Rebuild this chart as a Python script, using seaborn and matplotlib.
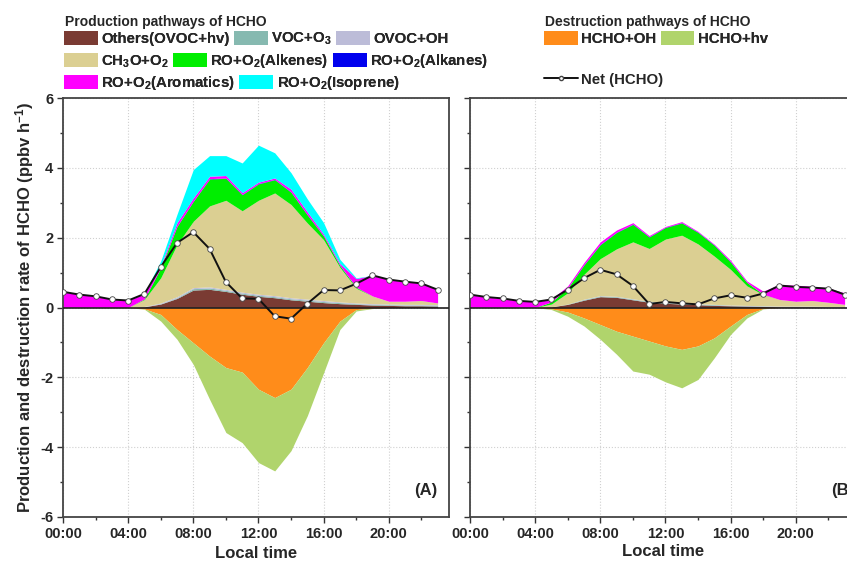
import matplotlib
matplotlib.use("Agg")
import matplotlib.pyplot as plt
from matplotlib.patches import Patch
from matplotlib.lines import Line2D
from matplotlib.ticker import MultipleLocator
import seaborn as sns
import numpy as np

hours = list(range(24))
tick_hours = [0, 4, 8, 12, 16, 20]
tick_labels = ['00:00', '04:00', '08:00', '12:00', '16:00', '20:00']

prod_names = ['Others(OVOC+hv)', 'VOC+O$_3$', 'OVOC+OH', 'CH$_3$O+O$_2$',
              'RO+O$_2$(Alkenes)', 'RO+O$_2$(Alkanes)', 'RO+O$_2$(Aromatics)',
              'RO+O$_2$(Isoprene)']
prod_colors = ['#7a3b33', '#86b9b0', '#bcbcd8', '#dbcf92',
               '#00ee00', '#0000ee', '#ff00ff', '#00ffff']
dest_names = ['HCHO+OH', 'HCHO+hv']
dest_colors = ['#ff8c1a', '#b0d46c']

# panel A: production layers (ppbv/h)
othersA = [0, 0, 0, 0, 0, 0.02, 0.10, 0.26, 0.50, 0.52, 0.46, 0.38, 0.32, 0.28, 0.22, 0.18, 0.14, 0.11, 0.09, 0.07, 0.06, 0.05, 0.05, 0.04]
voco3A = [0, 0, 0, 0, 0, 0, 0.01, 0.02, 0.04, 0.04, 0.03, 0.03, 0.03, 0.03, 0.03, 0.03, 0.03, 0.03, 0.02, 0.02, 0.02, 0.02, 0.02, 0.02]
ovocohA = [0, 0, 0, 0, 0, 0.01, 0.02, 0.03, 0.03, 0.03, 0.03, 0.03, 0.03, 0.03, 0.03, 0.03, 0.03, 0.02, 0.02, 0.02, 0.02, 0.02, 0.02, 0.02]
ch3oA = [0, 0, 0, 0, 0, 0.20, 0.72, 1.49, 1.90, 2.32, 2.55, 2.33, 2.69, 2.94, 2.67, 2.18, 1.74, 0.99, 0.42, 0.22, 0.08, 0.09, 0.11, 0.05]
alkenesA = [0, 0, 0, 0, 0, 0.02, 0.28, 0.52, 0.57, 0.77, 0.63, 0.46, 0.47, 0.38, 0.35, 0.23, 0.10, 0.05, 0.03, 0, 0, 0, 0, 0]
alkanesA = [0, 0, 0, 0, 0, 0, 0.01, 0.01, 0.01, 0.01, 0.01, 0.01, 0.01, 0.01, 0.01, 0.01, 0.01, 0.01, 0, 0, 0, 0, 0, 0]
aromaticsA = [0.45, 0.37, 0.32, 0.23, 0.20, 0.15, 0.05, 0.10, 0.09, 0.07, 0.07, 0.05, 0.04, 0.04, 0.08, 0.08, 0.05, 0.05, 0.25, 0.59, 0.62, 0.56, 0.49, 0.40]
isopreneA = [0, 0, 0, 0, 0, 0.02, 0.14, 0.24, 0.81, 0.59, 0.57, 0.85, 1.06, 0.72, 0.47, 0.37, 0.33, 0.12, 0.02, 0, 0, 0, 0, 0]
# panel A: destruction
ohA = [0, 0, 0, 0, 0, 0.04, 0.20, 0.63, 1.01, 1.39, 1.72, 1.85, 2.34, 2.58, 2.34, 1.72, 1.01, 0.39, 0.06, 0.02, 0, 0, 0, 0]
hvA = [0, 0, 0, 0, 0, 0.01, 0.19, 0.28, 0.62, 1.24, 1.86, 2.02, 2.10, 2.10, 1.76, 1.38, 0.86, 0.24, 0.04, 0.01, 0, 0, 0, 0]
netA = [0.45, 0.37, 0.32, 0.23, 0.20, 0.39, 1.16, 1.85, 2.16, 1.68, 0.73, 0.26, 0.25, -0.25, -0.32, 0.11, 0.50, 0.49, 0.68, 0.92, 0.80, 0.74, 0.69, 0.51]

# panel B: production layers
othersB = [0, 0, 0, 0, 0, 0.02, 0.09, 0.21, 0.31, 0.29, 0.22, 0.15, 0.12, 0.10, 0.08, 0.06, 0.05, 0.04, 0.03, 0.02, 0.02, 0.02, 0.01, 0.01]
voco3B = [0, 0, 0, 0, 0, 0, 0.01, 0.02, 0.02, 0.02, 0.02, 0.02, 0.02, 0.02, 0.02, 0.02, 0.01, 0.01, 0.01, 0.01, 0.01, 0.01, 0.01, 0.01]
ovocohB = [0, 0, 0, 0, 0, 0, 0, 0.01, 0.01, 0.01, 0.01, 0.01, 0.01, 0.01, 0.01, 0.01, 0.01, 0.01, 0.01, 0.01, 0.01, 0.01, 0.01, 0.01]
ch3oB = [0, 0, 0, 0, 0, 0.08, 0.32, 0.71, 1.06, 1.36, 1.63, 1.51, 1.81, 1.94, 1.71, 1.38, 1.02, 0.56, 0.32, 0.19, 0.14, 0.16, 0.12, 0.06]
alkenesB = [0, 0, 0, 0, 0, 0.06, 0.14, 0.27, 0.40, 0.47, 0.50, 0.33, 0.33, 0.35, 0.33, 0.31, 0.21, 0.10, 0.01, 0, 0, 0, 0, 0]
alkanesB = [0, 0, 0, 0, 0, 0, 0, 0.01, 0.01, 0.01, 0.01, 0.01, 0.01, 0.01, 0.01, 0.01, 0.01, 0, 0, 0, 0, 0, 0, 0]
aromaticsB = [0.37, 0.30, 0.26, 0.19, 0.16, 0.08, 0.06, 0.06, 0.07, 0.06, 0.04, 0.03, 0.02, 0.03, 0.02, 0.02, 0.04, 0.04, 0.09, 0.43, 0.46, 0.41, 0.41, 0.33]
isopreneB = [0] * 24
# panel B: destruction
ohB = [0, 0, 0, 0, 0, 0.04, 0.13, 0.30, 0.49, 0.68, 0.82, 0.96, 1.10, 1.20, 1.10, 0.87, 0.53, 0.20, 0.03, 0, 0, 0, 0, 0]
hvB = [0, 0, 0, 0, 0, 0.02, 0.12, 0.23, 0.42, 0.66, 1.00, 0.95, 1.03, 1.10, 0.96, 0.57, 0.24, 0.10, 0.01, 0, 0, 0, 0, 0]
netB = [0.37, 0.30, 0.26, 0.19, 0.16, 0.23, 0.51, 0.84, 1.08, 0.95, 0.62, 0.10, 0.16, 0.12, 0.09, 0.26, 0.35, 0.28, 0.40, 0.63, 0.59, 0.57, 0.54, 0.37]

sns.set_theme(style="ticks")
plt.rcParams['font.family'] = ['Liberation Sans', 'DejaVu Sans']
plt.rcParams['font.weight'] = 'bold'
plt.rcParams['mathtext.fontset'] = 'custom'
plt.rcParams['mathtext.rm'] = 'Liberation Sans:bold'
plt.rcParams['mathtext.bf'] = 'Liberation Sans:bold'
plt.rcParams['mathtext.default'] = 'bf'

fig = plt.figure(figsize=(8.47, 5.67), dpi=100)
axA = fig.add_axes([63 / 847, 50 / 567, 386 / 847, 419 / 567])
axB = fig.add_axes([470 / 847, 50 / 567, 386 / 847, 419 / 567])

panels = [
    (axA, [othersA, voco3A, ovocohA, ch3oA, alkenesA, alkanesA, aromaticsA, isopreneA], ohA, hvA, netA, '(A)', 0.97),
    (axB, [othersB, voco3B, ovocohB, ch3oB, alkenesB, alkanesB, aromaticsB, isopreneB], ohB, hvB, netB, '(B)', 0.997),
]

for ax, prod, oh, hv, net, tag, tag_x in panels:
    ax.stackplot(hours, *prod, colors=prod_colors, linewidth=0)
    ax.stackplot(hours, -np.array(oh), -np.array(hv), colors=dest_colors, linewidth=0)
    ax.axhline(0, color='#222222', lw=1.2, zorder=3)
    sns.lineplot(x=hours, y=net, ax=ax, color='#111111', lw=1.4, marker='o',
                 markersize=4, markerfacecolor='white', markeredgecolor='#444444',
                 markeredgewidth=0.6, zorder=4)
    ax.set_xlim(0, 23.7)
    ax.set_ylim(-6, 6)
    ax.set_xticks(tick_hours)
    ax.set_xticklabels(tick_labels, fontsize=10.5, fontweight='bold')
    ax.xaxis.set_minor_locator(MultipleLocator(2))
    ax.yaxis.set_major_locator(MultipleLocator(2))
    ax.yaxis.set_minor_locator(MultipleLocator(1))
    ax.tick_params(axis='both', which='major', direction='out', length=4, width=1, color='#333333', pad=3)
    ax.tick_params(axis='both', which='minor', direction='out', length=2.5, width=1, color='#333333')
    ax.grid(True, which='major', color='#d0d0d0', linestyle=':', linewidth=0.8)
    ax.set_axisbelow(True)
    for s in ax.spines.values():
        s.set_color('#444444')
        s.set_linewidth(1.3)
    ax.text(tag_x, 0.045, tag, transform=ax.transAxes, ha='right', va='bottom',
            fontsize=12, fontweight='bold')

axA.set_xlabel('Local time', fontsize=12, fontweight='bold', labelpad=4)
axB.set_xlabel('Local time', fontsize=12, fontweight='bold', labelpad=2)
axA.set_yticks([-6, -4, -2, 0, 2, 4, 6])
axA.set_yticklabels(['-6', '-4', '-2', '0', '2', '4', '6'], fontsize=10.5, fontweight='bold')
axA.set_ylabel('Production and destruction rate of HCHO (ppbv h$^{-1}$)',
               fontsize=12, fontweight='bold', labelpad=3)
axB.set_yticklabels([])
axB.set_ylabel('')

# legends: one per row so each row flows like the original
leg_kw = dict(loc='upper left', frameon=False, fontsize=10.8, handlelength=2.25,
              handleheight=1.05, handletextpad=0.22, columnspacing=0.3,
              borderpad=0, borderaxespad=0)

fig.text(65 / 847, 1 - 22 / 567, 'Production pathways of HCHO', fontsize=10,
         fontweight='bold', va='center', ha='left')
rows = [[0, 1, 2], [3, 4, 5], [6, 7]]
row_tops = [31, 52.5, 74]
for row, top in zip(rows, row_tops):
    handles = [Patch(facecolor=prod_colors[i], edgecolor='none', label=prod_names[i]) for i in row]
    fig.add_artist(fig.legend(handles=handles, ncol=len(row),
                              bbox_to_anchor=(64 / 847, 1 - top / 567), **leg_kw))

fig.text(545 / 847, 1 - 22 / 567, 'Destruction pathways of HCHO', fontsize=10,
         fontweight='bold', va='center', ha='left')
dest_handles = [Patch(facecolor=c, edgecolor='none', label=n) for n, c in zip(dest_names, dest_colors)]
fig.add_artist(fig.legend(handles=dest_handles, ncol=2,
                          bbox_to_anchor=(544 / 847, 1 - 31 / 567), **leg_kw))

net_handle = [Line2D([0], [0], color='#111111', lw=1.4, marker='o', markersize=3,
                     markerfacecolor='white', markeredgecolor='#444444', label='Net (HCHO)')]
fig.legend(handles=net_handle, bbox_to_anchor=(544 / 847, 1 - 72 / 567), **leg_kw)

fig.savefig('out.png', dpi=100)
